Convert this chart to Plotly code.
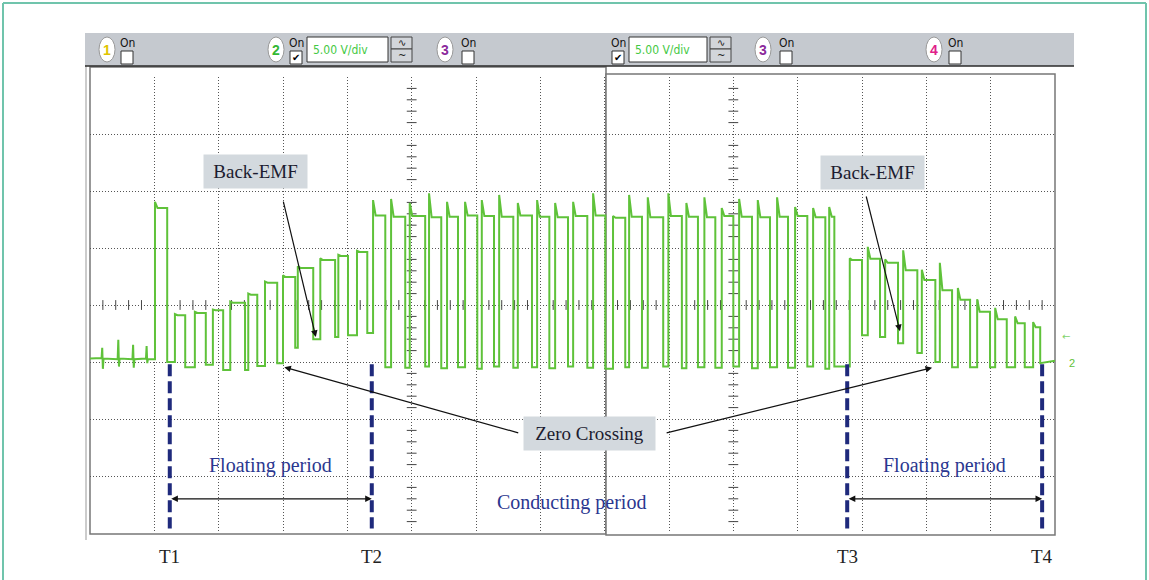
import plotly.graph_objects as go

W, H = 1149, 580

# ---------------- data (screen divisions: x = time div, y = volt div) ----------------
# pre-trigger baseline with a few noise spikes
pre_t = [0.00, 0.18, 0.19, 0.20, 0.21, 0.43, 0.44, 0.45, 0.46, 0.66, 0.67, 0.68, 0.69,
         0.87, 0.88, 0.89, 0.90, 1.01]
pre_v = [-0.94, -0.93, -0.75, -1.12, -0.94, -0.95, -0.61, -1.08, -0.94, -0.95, -0.70, -1.10, -0.95,
         -0.94, -0.72, -1.02, -0.95, -0.95]

# PWM pulses: rising edge, falling edge, flat high level, overshoot peak, level after the fall
rise_t = [1.01, 1.32, 1.63, 1.91, 2.18, 2.46, 2.72, 3.00, 3.23, 3.58, 3.86, 4.15,
          4.40, 4.68, 4.97, 5.27, 5.55, 5.83, 6.09, 6.36, 6.65, 6.95, 7.23, 7.51, 7.82,
          8.13, 8.38, 8.67, 8.99, 9.27, 9.55, 9.82, 10.09, 10.38, 10.68, 10.96, 11.24, 11.49,
          11.81, 12.09, 12.36, 12.64, 12.93, 13.21, 13.49, 13.79, 14.07, 14.38, 14.66]
fall_t = [1.20, 1.48, 1.80, 2.07, 2.41, 2.60, 2.91, 3.19, 3.47, 3.81, 4.01, 4.31,
          4.59, 4.90, 5.21, 5.46, 5.72, 6.02, 6.28, 6.58, 6.87, 7.14, 7.43, 7.73, 8.01,
          8.32, 8.58, 8.91, 9.20, 9.45, 9.72, 10.00, 10.29, 10.57, 10.85, 11.15, 11.43, 11.57,
          12.00, 12.28, 12.56, 12.86, 13.14, 13.40, 13.68, 13.99, 14.25, 14.53, 14.77]
high_v = [1.70, -0.18, -0.14, -0.09, 0.04, 0.18, 0.39, 0.49, 0.65, 0.79, 0.86, 0.93,
          1.57, 1.55, 1.56, 1.54, 1.55, 1.57, 1.56, 1.55, 1.57, 1.55, 1.54, 1.56, 1.57,
          1.53, 1.55, 1.54, 1.56, 1.55, 1.54, 1.56, 1.55, 1.54, 1.55, 1.56, 1.54, 1.55,
          0.79, 0.81, 0.74, 0.61, 0.44, 0.26, 0.09, -0.12, -0.25, -0.32, -0.39]
peak_v = [1.81, -0.16, -0.12, -0.08, 0.06, 0.20, 0.41, 0.52, 0.68, 0.82, 0.88, 0.95,
          1.84, 1.86, 1.79, 1.96, 1.81, 1.81, 1.84, 1.93, 1.79, 1.84, 1.79, 1.81, 1.96,
          1.56, 1.93, 1.89, 1.96, 1.79, 1.89, 1.70, 1.86, 1.84, 1.89, 1.72, 1.70, 1.72,
          0.82, 1.02, 0.80, 0.96, 0.62, 0.74, 0.30, 0.10, -0.05, -0.20, -0.30]
low_v = [-1.00, -1.09, -1.05, -1.14, -1.14, -1.07, -1.02, -0.75, -0.60, -0.56, -0.53, -0.49,
         -1.09, -1.10, -1.08, -1.11, -1.09, -1.12, -1.08, -1.10, -1.09, -1.11, -1.08, -1.10, -1.12,
         -1.09, -1.10, -1.08, -1.11, -1.09, -1.10, -1.08, -1.11, -1.09, -1.10, -1.08, -1.12, -1.08,
         -0.53, -0.56, -0.67, -0.84, -1.00, -1.09, -1.09, -1.09, -1.09, -1.09, -1.02]
end_t = 15.0
end_v = -0.98

t_marks = [1.24, 4.38, 11.77, 14.80]
t_labels = ["T1", "T2", "T3", "T4"]

# ---------------- build waveform ----------------
xs = list(pre_t)
ys = list(pre_v)
prev = pre_v[-1]
for r, f, h, p, l in zip(rise_t, fall_t, high_v, peak_v, low_v):
    xs += [r, r, r + 0.04, f, f]
    ys += [prev, p, h, h, l]
    prev = l
xs.append(end_t)
ys.append(end_v)

fig = go.Figure()

# graticule centre-axis minor ticks
hx = [i * 0.2 for i in range(1, 75) if i % 5]
vy = [i * 0.2 - 4 for i in range(1, 40) if i % 5]
fig.add_trace(go.Scatter(x=hx, y=[0] * len(hx), mode="markers", hoverinfo="skip",
                         marker=dict(symbol="line-ns", size=7, line=dict(color="#444", width=1))))
for cx in (5, 10):
    fig.add_trace(go.Scatter(x=[cx] * len(vy), y=vy, mode="markers", hoverinfo="skip",
                             marker=dict(symbol="line-ew", size=7, line=dict(color="#444", width=1))))

fig.add_trace(go.Scatter(x=xs, y=ys, mode="lines", hoverinfo="skip",
                         line=dict(color="#5fc23a", width=2)))

shapes = []
annos = []

SERIF = "Liberation Serif, Times New Roman, serif"
SANS = "Liberation Sans, Arial, sans-serif"
NARROW = "Liberation Sans Narrow, DejaVu Sans Condensed, Arial Narrow, sans-serif"


def prect(x0, y0, x1, y1, fill, line=None, lw=1, layer="above", kind="rect"):
    shapes.append(dict(type=kind, xref="paper", yref="paper", x0=x0 / W, x1=x1 / W,
                       y0=1 - y1 / H, y1=1 - y0 / H, fillcolor=fill, layer=layer,
                       line=dict(color=line if line else "rgba(0,0,0,0)", width=lw if line else 0)))


def pline(x0, y0, x1, y1, color, w, layer="above"):
    shapes.append(dict(type="line", xref="paper", yref="paper", x0=x0 / W, x1=x1 / W,
                       y0=1 - y0 / H, y1=1 - y1 / H, layer=layer, line=dict(color=color, width=w)))


def ptext(x, y, text, size, color, family, xanchor="center"):
    annos.append(dict(xref="paper", yref="paper", x=x / W, y=1 - y / H, text=text, showarrow=False,
                      xanchor=xanchor, yanchor="middle", font=dict(size=size, color=color, family=family)))


# outer teal frame
pline(3, 3, 1146, 3, "#70c4ac", 2)
pline(3, 3, 3, 580, "#70c4ac", 2)
pline(1146, 3, 1146, 580, "#70c4ac", 2)

# scope panels
prect(90, 67, 606, 534, "white", "#777", 1.5, layer="below")
prect(606, 74, 1055, 535, "white", "#777", 1.5, layer="below")
pline(86, 66, 86, 540, "#999", 1, layer="below")

# toolbar
prect(85, 33, 1074, 66, "#c5c9cf")
pline(85, 66, 1074, 66, "#2a2a2a", 1.5)

for cx, lab, col in [(107, "1", "#e0c400"), (276, "2", "#33b833"), (445, "3", "#8b2a9c"),
                     (763, "3", "#8b2a9c"), (934, "4", "#e0208a")]:
    prect(cx - 8, 37, cx + 8, 62, "white", "#9a9a9a", 1, kind="circle")
    ptext(cx, 50, "<b>%s</b>" % lab, 14, col, SANS)

for cx, chk in [(127, False), (296, True), (468, False), (618, True), (786, False), (955, False)]:
    ptext(cx, 43, "On", 12, "#111", NARROW)
    prect(cx - 6, 51, cx + 6, 64, "white", "#333", 1)
    if chk:
        ptext(cx, 57.5, "✔", 10, "#000", "DejaVu Sans")

for x0, x1, bx in [(307, 388, 391), (629, 707, 710)]:
    prect(x0, 37, x1, 62, "white", "#333", 1)
    ptext(x0 + 4, 50, "5.00 V/div", 12, "#44c944", NARROW, xanchor="left")
    prect(bx, 37, bx + 21, 49, "#d2d5da", "#444", 1)
    prect(bx, 49, bx + 21, 62, "#d2d5da", "#444", 1)
    ptext(bx + 10.5, 43, "∿", 10, "#222", "DejaVu Sans")
    ptext(bx + 10.5, 55.5, "~", 10, "#222", "DejaVu Sans")

# T markers (dashed navy lines)
for t in t_marks:
    shapes.append(dict(type="line", xref="x", yref="y", x0=t, x1=t, y0=-1.04, y1=-3.92, layer="above",
                       line=dict(color="#1f2a7c", width=4, dash="12px,5px")))

# arrows
arrow_style = dict(showarrow=True, text="", axref="x", ayref="y", xref="x", yref="y",
                   arrowhead=2, arrowsize=1.1, arrowwidth=1.2, arrowcolor="#111", standoff=0)
for tip_x, tip_y, tail_x, tail_y in [(3.51, -0.56, 3.00, 1.84), (12.59, -0.46, 12.06, 1.93),
                                     (3.02, -1.09, 6.68, -2.25), (13.09, -1.10, 8.94, -2.25)]:
    annos.append(dict(x=tip_x, y=tip_y, ax=tail_x, ay=tail_y, **arrow_style))

# period double arrows
for a, b in [(t_marks[0], t_marks[1]), (t_marks[2], t_marks[3])]:
    annos.append(dict(x=b, y=-3.40, ax=a, ay=-3.40, arrowside="end+start", **arrow_style))

# labelled boxes
box_font = dict(family=SERIF, size=19, color="#1c1c30")
for bx, by, txt, bw in [(2.57, 2.35, "Back-EMF", 101), (12.17, 2.33, "Back-EMF", 101),
                        (7.77, -2.26, "Zero Crossing", 129)]:
    annos.append(dict(x=bx, y=by, xref="x", yref="y", text=txt, showarrow=False, bgcolor="#d3d9de",
                      width=bw, height=31, font=box_font))

navy = dict(family=SERIF, size=20, color="#2b3790")
for tx, ty, txt in [(2.80, -2.81, "Floating period"), (13.29, -2.81, "Floating period"),
                    (7.49, -3.47, "Conducting period")]:
    annos.append(dict(x=tx, y=ty, xref="x", yref="y", text=txt, showarrow=False, font=navy))

for t, lab in zip(t_marks, t_labels):
    annos.append(dict(x=t, y=1 - 556 / H, xref="x", yref="paper", text=lab, showarrow=False,
                      yanchor="middle", font=dict(family=SERIF, size=19, color="#222")))

# channel 2 ground marker outside the graticule
ptext(1066, 336, "←", 10, "#7fd36a", "DejaVu Sans")
ptext(1072, 363, "2", 11, "#5fc23a", SANS)

axis_common = dict(showticklabels=False, ticks="", showgrid=True, gridcolor="#555",
                   griddash="1px,2px", gridwidth=1, zeroline=False, showline=False, fixedrange=True)

fig.update_layout(
    width=W, height=H, margin=dict(l=0, r=0, t=0, b=0),
    paper_bgcolor="white", plot_bgcolor="rgba(0,0,0,0)", showlegend=False,
    xaxis=dict(domain=[90 / W, 1055 / W], range=[0, 15], tickvals=list(range(1, 15)), **axis_common),
    yaxis=dict(domain=[1 - 533 / H, 1 - 77 / H], range=[-4, 4], tickvals=[-3, -2, -1, 0, 1, 2, 3, 4],
               **axis_common),
    shapes=shapes, annotations=annos,
)

fig.write_html("out.html", config={"displayModeBar": False},
               post_script="document.body.style.margin='0';document.body.style.overflow='hidden';")
